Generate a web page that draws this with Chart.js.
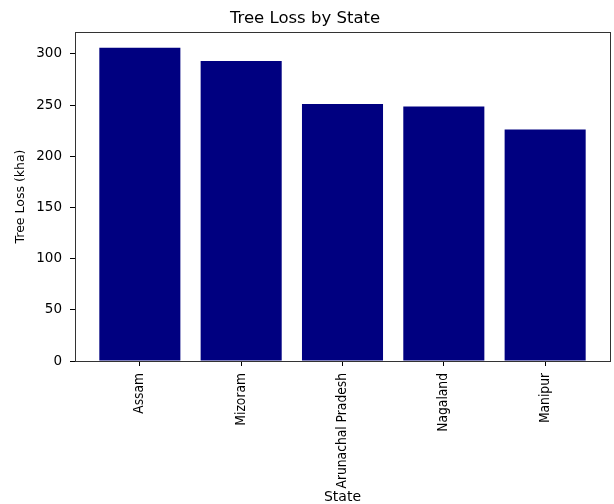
<!DOCTYPE html>
<html>
<head>
<meta charset="utf-8">
<script src="https://cdn.jsdelivr.net/npm/chart.js@4"></script>
<style>
  html, body { margin: 0; padding: 0; background: #fff; }
  canvas { display: block; }
</style>
</head>
<body>
<canvas id="lossChart" width="614" height="504"></canvas>
<script>
const states = ["Assam", "Mizoram", "Arunachal Pradesh", "Nagaland", "Manipur"];
const treeLoss = [306, 293, 251, 248.5, 226];
const yTicks = [0, 50, 100, 150, 200, 250, 300];

const FONT = "'DejaVu Sans', sans-serif";
const NAVY = "#000080";

// matplotlib-like box around the plot area
const frame = {
  id: "frame",
  afterDraw(chart) {
    const { ctx, chartArea: a } = chart;
    ctx.save();
    ctx.strokeStyle = "#333";
    ctx.lineWidth = 1;
    ctx.strokeRect(Math.round(a.left) + 0.5, Math.round(a.top) + 0.5,
      Math.round(a.right - a.left), Math.round(a.bottom - a.top));
    ctx.restore();
  },
};

Chart.defaults.color = "#000";
Chart.defaults.font.family = FONT;

new Chart(document.getElementById("lossChart"), {
  type: "bar",
  data: {
    datasets: [{
      label: "Tree Loss (kha)",
      data: states.map((s, i) => ({ x: i, y: treeLoss[i] })),
      backgroundColor: NAVY,
      borderWidth: 0,
      barPercentage: 0.8,
      categoryPercentage: 1,
    }],
  },
  options: {
    responsive: false,
    animation: false,
    layout: { padding: { left: 0, right: 4, top: 0, bottom: 0 } },
    plugins: {
      legend: { display: false },
      tooltip: { enabled: false },
      title: {
        display: true,
        text: "Tree Loss by State",
        color: "#000",
        font: { family: FONT, size: 16.5, weight: "normal", lineHeight: 1.2 },
        padding: { top: 9, bottom: 3.2 },
      },
    },
    scales: {
      x: {
        type: "linear",
        offset: false,
        min: -0.64,
        max: 4.64,
        afterBuildTicks: (s) => { s.ticks = states.map((n, i) => ({ value: i })); },
        afterFit: (s) => { s.height = 143; },
        ticks: {
          stepSize: 1,
          autoSkip: false,
          minRotation: 90,
          maxRotation: 90,
          padding: 7,
          font: { family: "'DejaVu Sans Condensed', " + FONT, size: 13.7 },
          callback: (v) => states[v],
        },
        grid: { display: true, offset: false, drawOnChartArea: false, tickLength: 5, color: "#000" },
        border: { display: false },
        title: {
          display: true,
          text: "State",
          font: { family: FONT, size: 14, lineHeight: 1.0 },
          padding: { top: 0, bottom: -0.5 },
        },
      },
      y: {
        min: 0,
        max: 306 * 1.05,
        afterBuildTicks: (s) => { s.ticks = yTicks.map(v => ({ value: v })); },
        afterFit: (s) => { s.width = 75; },
        ticks: {
          stepSize: 50,
          padding: 8,
          font: { family: FONT, size: 13.5 },
        },
        grid: { display: true, drawOnChartArea: false, tickLength: 5, color: "#000" },
        border: { display: false },
        title: {
          display: true,
          text: "Tree Loss (kha)",
          font: { family: FONT, size: 12.5, lineHeight: 1.2 },
          padding: { top: 13.3, bottom: 0 },
        },
      },
    },
  },
  plugins: [frame],
});
</script>
</body>
</html>
